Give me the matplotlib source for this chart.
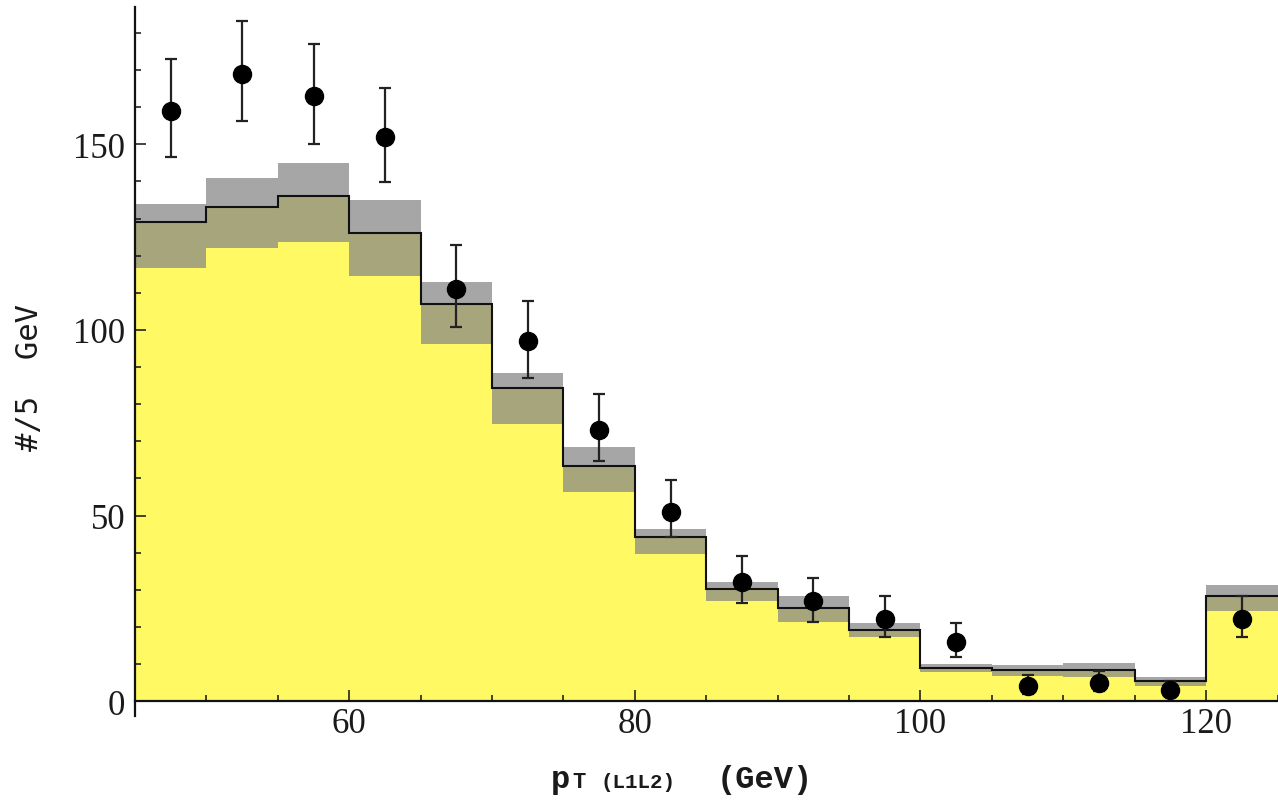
import numpy as np
import matplotlib
matplotlib.use("Agg")
import matplotlib.pyplot as plt
from matplotlib.ticker import MultipleLocator

# Bin edges of the transverse-momentum histogram (GeV)
bin_edges = [45, 50, 55, 60, 65, 70, 75, 80, 85, 90, 95, 100, 105, 110, 115, 120, 125]

# Background component (yellow), total prediction (black line) and upper edge of its band (gray)
background = [116.6, 122.0, 123.6, 114.6, 96.2, 74.7, 56.4, 39.6, 27.0, 21.2, 17.4, 7.8, 6.7, 6.4, 4.0, 24.3]
prediction = [129.0, 133.0, 136.0, 126.0, 107.0, 84.4, 63.4, 44.1, 30.2, 25.0, 19.2, 8.9, 8.4, 8.4, 5.3, 28.3]
pred_upper = [134.0, 141.0, 145.0, 135.0, 113.0, 88.4, 68.6, 46.4, 32.2, 28.2, 21.0, 10.0, 9.7, 10.4, 6.6, 31.3]

# Observed counts per bin with their lower / upper uncertainties
observed = [159, 169, 163, 152, 111, 97, 73, 51, 32, 27, 22, 16, 4, 5, 3, 22]
err_low = [12.4, 12.7, 12.9, 12.2, 10.3, 9.9, 8.2, 6.9, 5.5, 5.6, 4.6, 4.2, 2.0, 2.2, 1.7, 4.6]
err_high = [14.0, 14.2, 14.0, 13.2, 11.8, 10.8, 9.7, 8.5, 7.0, 6.2, 6.2, 5.0, 3.0, 3.2, 2.5, 6.2]

x_major = [60, 80, 100, 120]
y_major = [0, 50, 100, 150]

YELLOW = "#fffa64"
OLIVE = "#a6a57b"
GRAY = "#a6a6a6"
INK = "#1a1a1a"

W, H = 1278, 804
fig = plt.figure(figsize=(W / 100, H / 100), dpi=100)
ax = fig.add_axes([135 / W, (H - 717) / H, (1277.5 - 135) / W, (717 - 8) / H])

edges = np.array(bin_edges, dtype=float)
bg = np.array(background)
tot = np.array(prediction)
up = np.array(pred_upper)

def stepify(vals):
    return np.append(vals, vals[-1])

ax.fill_between(edges, 0, stepify(bg), step="post", color=YELLOW, lw=0, zorder=1)
ax.fill_between(edges, stepify(bg), stepify(tot), step="post", color=OLIVE, lw=0, zorder=1)
ax.fill_between(edges, stepify(tot), stepify(up), step="post", color=GRAY, lw=0, zorder=1)
ax.stairs(tot, edges, color="#111111", lw=1.5, zorder=2, baseline=None)

centers = 0.5 * (edges[:-1] + edges[1:])
ax.errorbar(centers, observed, yerr=[err_low, err_high], fmt="o", color="black",
            ecolor="#222222", elinewidth=1.6, capsize=4.5, capthick=1.6,
            markersize=13, zorder=3)

ax.set_xlim(45, 125)
ax.set_ylim(-4, 187)

for side in ("top", "right"):
    ax.spines[side].set_visible(False)
ax.spines["bottom"].set_position(("data", 0))
ax.spines["left"].set_bounds(-4, 187)
for side in ("left", "bottom"):
    ax.spines[side].set_linewidth(1.6)
    ax.spines[side].set_color("#111111")
    ax.spines[side].set_zorder(4)

ax.set_xticks(x_major)
ax.set_yticks(y_major)
ax.xaxis.set_minor_locator(MultipleLocator(5))
ax.yaxis.set_minor_locator(MultipleLocator(10))
ax.tick_params(which="both", direction="in", color="#111111", width=1.1,
               labelsize=25, labelcolor=INK)
ax.tick_params(which="major", length=8)
ax.tick_params(which="minor", length=4.2)
ax.tick_params(axis="x", which="major", pad=4)
ax.tick_params(axis="y", which="major", pad=7)
for lab in ax.get_xticklabels() + ax.get_yticklabels():
    lab.set_family("Liberation Serif")

# Axis labels
def fig_xy(px, py):
    return px / W, 1 - py / H

fig.text(*fig_xy(551, 788), "p", family="Liberation Mono", fontweight="bold",
         fontsize=23, color=INK, va="baseline", ha="left")
fig.text(*fig_xy(572, 788), "T", family="Liberation Mono", fontweight="bold",
         fontsize=16, color=INK, va="baseline", ha="left")
fig.text(*fig_xy(600, 788), "(L1L2)", family="Liberation Mono", fontweight="bold",
         fontsize=15, color=INK, va="baseline", ha="left")
fig.text(*fig_xy(717, 788), "(GeV)", family="Liberation Mono", fontweight="bold",
         fontsize=23, color=INK, va="baseline", ha="left")
fig.text(*fig_xy(30, 378), "#/5  GeV", family="DejaVu Sans Mono",
         fontsize=22, color=INK, rotation=90, va="center", ha="center")

fig.savefig("out.png", dpi=100)
